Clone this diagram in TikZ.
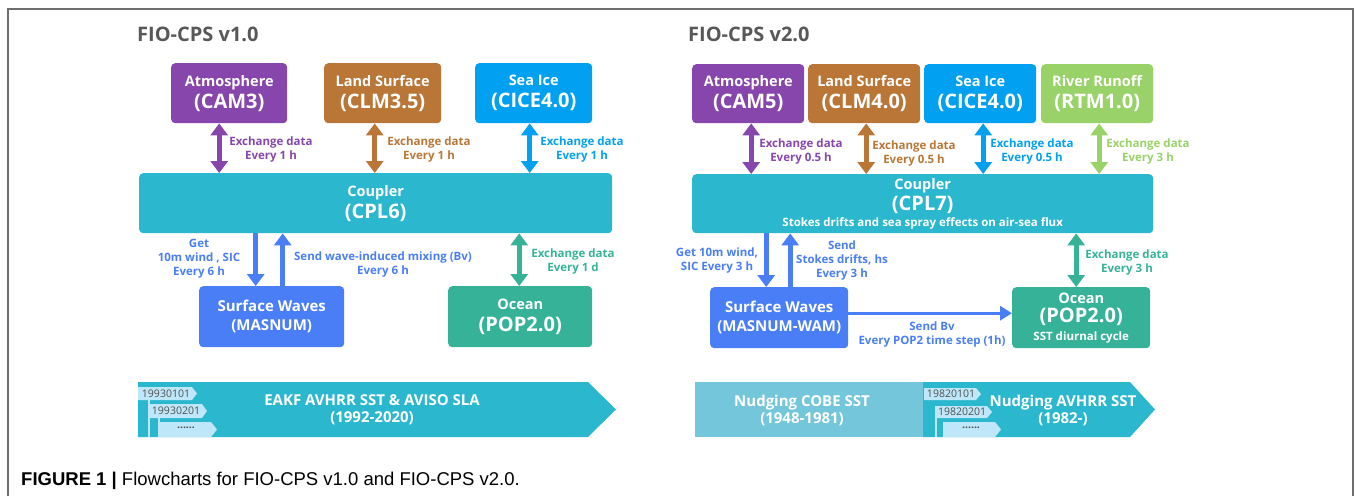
\documentclass[tikz,border=0pt]{standalone}
\usepackage{fontspec}
\setmainfont{Open Sans}
\newfontfamily\capfont{Liberation Sans}
\usetikzlibrary{arrows.meta}
\definecolor{cAtm}{RGB}{134,70,172}
\definecolor{cLnd}{RGB}{185,118,54}
\definecolor{cIce}{RGB}{2,160,240}
\definecolor{cRiv}{RGB}{152,210,104}
\definecolor{cCpl}{RGB}{43,184,206}
\definecolor{cWav}{RGB}{74,126,246}
\definecolor{cOcn}{RGB}{54,178,153}
\definecolor{cCobe}{RGB}{116,198,218}
\definecolor{cTag}{RGB}{190,232,250}
\definecolor{cTitle}{RGB}{88,88,88}
\definecolor{cFrame}{RGB}{110,110,110}
\definecolor{cTagTxt}{RGB}{80,80,80}
\newcommand\bxbig{\bfseries\fontsize{20}{22}\selectfont}
\newcommand\bxsml{\bfseries\fontsize{11.5}{13}\selectfont}
\begin{document}
\begin{tikzpicture}[x=1pt,y=-1pt,
  box/.style={rounded corners=4pt, text=white, align=center, inner sep=0pt, anchor=north west,
              font=\bfseries\fontsize{14.5}{22}\selectfont},
  lbl/.style={align=center, inner sep=0pt, font=\bfseries\fontsize{11.5}{14}\selectfont},
  dbl/.style={line width=5pt, {Triangle[width=17pt,length=12pt]}-{Triangle[width=17pt,length=12pt]}},
  sgl/.style={line width=5pt, -{Triangle[width=17pt,length=12pt]}},
  thinarr/.style={line width=3pt, -{Triangle[width=14pt,length=12pt]}},
  title/.style={anchor=west, inner sep=0pt, text=cTitle, font=\bfseries\fontsize{20}{22}\selectfont},
  bantxt/.style={align=center, inner sep=0pt, text=white, font=\bfseries\fontsize{15}{17}\selectfont},
  tagtxt/.style={inner sep=0pt, text=cTagTxt, font=\fontsize{10.5}{12}\selectfont}
]
\useasboundingbox (0,0) rectangle (1356,496);
\draw[cFrame, line width=1.3pt] (8,496) -- (8,9) -- (1353,9) -- (1353,496);

% ---------- titles
\node[title] (tA) at (137,34) {FIO-CPS v1.0};
\node[title] (tB) at (688,34) {FIO-CPS v2.0};

% ---------- v1.0 boxes
\node[box, fill=cAtm, minimum width=116pt, minimum height=60pt] (atmA) at (171,63)
  {Atmosphere\\{\bxbig (CAM3)}};
\node[box, fill=cLnd, minimum width=117pt, minimum height=60pt] (lndA) at (324,63)
  {Land Surface\\{\bxbig (CLM3.5)}};
\node[box, fill=cIce, minimum width=117pt, minimum height=60pt] (iceA) at (475,63)
  {Sea Ice\\{\bxbig (CICE4.0)}};
\node[box, fill=cCpl, minimum width=473pt, minimum height=60pt] (cplA) at (139,173)
  {Coupler\\{\bxbig (CPL6)}};
\node[box, fill=cWav, minimum width=145pt, minimum height=61pt, font=\bfseries\fontsize{15}{19}\selectfont] (wavA) at (199,286)
  {Surface Waves\\(MASNUM)};
\node[box, fill=cOcn, minimum width=144pt, minimum height=61pt] (ocnA) at (448,286)
  {Ocean\\{\bxbig (POP2.0)}};

% ---------- v1.0 arrows
\draw[dbl, cAtm] ([xshift=-10pt]atmA.south) -- ([xshift=-10pt]atmA.south |- cplA.north);
\draw[dbl, cLnd] ([xshift=-8pt]lndA.south) -- ([xshift=-8pt]lndA.south |- cplA.north);
\draw[dbl, cIce] ([xshift=-4pt]iceA.south) -- ([xshift=-4pt]iceA.south |- cplA.north);
\draw[sgl, cWav] ([xshift=-16pt]wavA.north |- cplA.south) -- ([xshift=-16pt]wavA.north);
\draw[sgl, cWav] ([xshift=11pt]wavA.north) -- ([xshift=11pt]wavA.north |- cplA.south);
\draw[dbl, cOcn] ([xshift=-1pt]ocnA.north |- cplA.south) -- ([xshift=-1pt]ocnA.north);

% ---------- v1.0 labels
\node[lbl, text=cAtm] (lAtmA) at (271,150) {Exchange data\\Every 1 h};
\node[lbl, text=cLnd] (lLndA) at (429,150) {Exchange data\\Every 1 h};
\node[lbl, text=cIce] (lIceA) at (582,150) {Exchange data\\Every 1 h};
\node[lbl, text=cWav] (lGetA) at (199,259) {Get\\10m wind , SIC\\Every 6 h};
\node[lbl, text=cWav] (lSendA) at (383,265) {Send wave-induced mixing (Bv)\\Every 6 h};
\node[lbl, text=cOcn] (lOcnA) at (573,262) {Exchange data\\Every 1 d};

% ---------- v1.0 banner
\fill[cCpl] (138,382) -- (588,382) -- (616,409.5) -- (588,437) -- (138,437) -- cycle;
\node[bantxt] (bA) at (372,410) {EAKF AVHRR SST \& AVISO SLA\\(1992-2020)};
\fill[cTag] (138,387) -- (192,387) -- (197,393.5) -- (192,400) -- (138,400) -- cycle;
\fill[cTag] (148,404) -- (202,404) -- (207,411) -- (202,418) -- (148,418) -- cycle;
\fill[cTag] (158,422) -- (211,422) -- (217,429.5) -- (211,437) -- (158,437) -- cycle;
\draw[cTag, line width=1.5pt] (149,400) -- (149,437);
\draw[cTag, line width=1.5pt] (159,418) -- (159,437);
\node[tagtxt] (gA1) at (166,393.5) {19930101};
\node[tagtxt] (gA2) at (176,411) {19930201};
\node[tagtxt] (gA3) at (186,428) {\textbf{......}};

% ---------- v2.0 boxes
\node[box, fill=cAtm, minimum width=112pt, minimum height=59pt] (atmB) at (692,64)
  {Atmosphere\\{\bxbig (CAM5)}};
\node[box, fill=cLnd, minimum width=112pt, minimum height=59pt] (lndB) at (808,64)
  {Land Surface\\{\bxbig (CLM4.0)}};
\node[box, fill=cIce, minimum width=112pt, minimum height=59pt] (iceB) at (924,64)
  {Sea Ice\\{\bxbig (CICE4.0)}};
\node[box, fill=cRiv, minimum width=112pt, minimum height=59pt] (rivB) at (1041,64)
  {River Runoff\\{\bxbig (RTM1.0)}};
\node[box, fill=cCpl, minimum width=461pt, minimum height=59pt, font=\bfseries\fontsize{14.5}{21}\selectfont] (cplB) at (692,174)
  {Coupler\\{\bxbig (CPL7)}\\[-5pt]{\bxsml Stokes drifts and sea spray effects on air-sea flux}};
\node[box, fill=cWav, minimum width=138pt, minimum height=61pt, font=\bfseries\fontsize{15}{19}\selectfont] (wavB) at (710,287)
  {Surface Waves\\(MASNUM-WAM)};
\node[box, fill=cOcn, minimum width=138pt, minimum height=61pt, font=\bfseries\fontsize{14.5}{19.5}\selectfont] (ocnB) at (1012,287)
  {Ocean\\{\bxbig (POP2.0)}\\[-2pt]{\bxsml SST diurnal cycle}};

% ---------- v2.0 arrows
\draw[dbl, cAtm] ([xshift=3pt]atmB.south) -- ([xshift=3pt]atmB.south |- cplB.north);
\draw[dbl, cLnd] ([xshift=2pt]lndB.south) -- ([xshift=2pt]lndB.south |- cplB.north);
\draw[dbl, cIce] ([xshift=3pt]iceB.south) -- ([xshift=3pt]iceB.south |- cplB.north);
\draw[dbl, cRiv] ([xshift=2pt]rivB.south) -- ([xshift=2pt]rivB.south |- cplB.north);
\draw[sgl, cWav] ([xshift=-13pt]wavB.north |- cplB.south) -- ([xshift=-13pt]wavB.north);
\draw[sgl, cWav] ([xshift=11pt]wavB.north) -- ([xshift=11pt]wavB.north |- cplB.south);
\draw[dbl, cOcn] ([xshift=-5pt]ocnB.north |- cplB.south) -- ([xshift=-5pt]ocnB.north);
\draw[thinarr, cWav] ([yshift=4.5pt]wavB.east) -- ([yshift=4.5pt]wavB.east -| ocnB.west);

% ---------- v2.0 labels
\node[lbl, text=cAtm] (lAtmB) at (801,152) {Exchange data\\Every 0.5 h};
\node[lbl, text=cLnd] (lLndB) at (914,154) {Exchange data\\Every 0.5 h};
\node[lbl, text=cIce] (lIceB) at (1032,152) {Exchange data\\Every 0.5 h};
\node[lbl, text=cRiv] (lRivB) at (1148,152) {Exchange data\\Every 3 h};
\node[lbl, text=cWav] (lGetB) at (717,261) {Get 10m wind,\\SIC Every 3 h};
\node[lbl, text=cWav] (lSendB) at (842,261) {Send\\Stokes drifts, hs\\Every 3 h};
\node[lbl, text=cOcn] (lOcnB) at (1127,263) {Exchange data\\Every 3 h};
\node[lbl, text=cWav] (lBvB) at (932,335) {Send Bv\\Every POP2 time step (1h)};

% ---------- v2.0 banner
\fill[cCobe] (695,382) rectangle (923,437);
\fill[cCpl] (923,382) -- (1130,382) -- (1155,409.5) -- (1130,437) -- (923,437) -- cycle;
\node[bantxt] (bB1) at (802,410) {Nudging COBE SST\\(1948-1981)};
\node[bantxt] (bB2) at (1063,410) {Nudging AVHRR SST\\(1982-)};
\fill[cTag] (924,388) -- (976,388) -- (981,394) -- (976,400) -- (924,400) -- cycle;
\fill[cTag] (935,406) -- (987,406) -- (992,412) -- (987,418) -- (935,418) -- cycle;
\fill[cTag] (943,422) -- (995,422) -- (1001,429.5) -- (995,437) -- (943,437) -- cycle;
\draw[cTag, line width=1.5pt] (936,418) -- (936,437);
\node[tagtxt] (gB1) at (951,394) {19820101};
\node[tagtxt] (gB2) at (962,412) {19820201};
\node[tagtxt] (gB3) at (971,428) {\textbf{......}};

% ---------- caption
\node[anchor=west, inner sep=0pt, font=\capfont\fontsize{18.5}{20}\selectfont] (cap) at (21,481)
  {\textbf{FIGURE 1 |} Flowcharts for FIO-CPS v1.0 and FIO-CPS v2.0.};
\end{tikzpicture}
\end{document}
